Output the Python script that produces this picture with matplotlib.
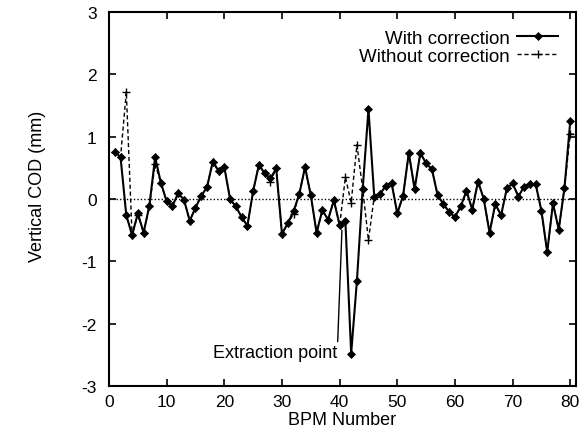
import matplotlib
matplotlib.use("Agg")
import matplotlib.pyplot as plt

plt.rcParams['font.family'] = ['Liberation Sans', 'DejaVu Sans']
plt.rcParams['axes.unicode_minus'] = False

bpm = list(range(1, 81))
with_corr = [0.76, 0.67, -0.26, -0.58, -0.23, -0.54, -0.11, 0.67, 0.26, -0.04,
             -0.11, 0.09, -0.01, -0.35, -0.14, 0.05, 0.19, 0.60, 0.45, 0.51,
             0.00, -0.12, -0.29, -0.43, 0.13, 0.55, 0.41, 0.33, 0.49, -0.56,
             -0.39, -0.20, 0.08, 0.51, 0.06, -0.54, -0.18, -0.33, -0.02, -0.42,
             -0.36, -2.48, -1.31, 0.16, 1.44, 0.04, 0.08, 0.21, 0.26, -0.23,
             0.05, 0.74, 0.16, 0.74, 0.57, 0.48, 0.06, -0.08, -0.21, -0.29,
             -0.12, 0.13, -0.17, 0.28, 0.00, -0.54, -0.08, -0.26, 0.17, 0.25,
             0.04, 0.20, 0.24, 0.24, -0.19, -0.85, -0.07, -0.49, 0.18, 1.25]
bpm_wo = list(range(1, 82))
without_corr = [0.76, 0.67, 1.72, -0.58, -0.25, -0.54, -0.11, 0.56, 0.26, -0.04,
                -0.11, 0.09, -0.01, -0.35, -0.14, 0.05, 0.19, 0.60, 0.45, 0.51,
                0.00, -0.12, -0.29, -0.43, 0.13, 0.55, 0.41, 0.28, 0.49, -0.56,
                -0.39, -0.24, 0.08, 0.51, 0.06, -0.54, -0.18, -0.33, -0.02, -0.42,
                0.35, -0.06, 0.87, 0.16, -0.66, 0.04, 0.08, 0.21, 0.26, -0.23,
                0.05, 0.74, 0.16, 0.74, 0.57, 0.48, 0.06, -0.08, -0.21, -0.29,
                -0.12, 0.13, -0.17, 0.28, 0.00, -0.54, -0.08, -0.26, 0.17, 0.25,
                0.04, 0.20, 0.24, 0.24, -0.19, -0.85, -0.07, -0.49, 0.18, 1.04, 1.04]

xticks = [0, 10, 20, 30, 40, 50, 60, 70, 80]
yticks = [-3, -2, -1, 0, 1, 2, 3]

fig = plt.figure(figsize=(5.87, 4.31), dpi=100)
ax = fig.add_axes([0.1857, 0.1021, 0.7956, 0.8677])

ax.axhline(0, color='black', lw=1.0, ls=(0, (1, 1.5)), zorder=1)
ax.plot(bpm_wo, without_corr, color='black', lw=1.0, ls=(0, (3, 2)),
        marker='+', ms=6, mew=1.0, markevery=list(range(len(bpm_wo) - 1)),
        label='Without correction', zorder=2)
ax.plot(bpm, with_corr, color='black', lw=1.5, ls='-',
        marker='D', ms=4.3, mew=0.5, label='With correction', zorder=3)

ax.annotate('Extraction point', xy=(40.4, -0.5), xytext=(39.6, -2.47),
            ha='right', va='center', fontsize=13,
            arrowprops=dict(arrowstyle='-', lw=1.0, color='black',
                            shrinkA=0, shrinkB=0, relpos=(1.0, 0.6)))

ax.set_xlim(0, 81)
ax.set_ylim(-3, 3)
ax.set_xticks(xticks)
ax.set_yticks(yticks)
ax.tick_params(direction='in', top=True, right=True, length=5, width=1.2,
               labelsize=12.5)
ax.tick_params(axis='y', pad=9)
ax.tick_params(axis='x', pad=6)
for s in ax.spines.values():
    s.set_linewidth(1.5)

ax.set_xlabel('BPM Number', fontsize=13, labelpad=1)
ax.set_ylabel('Vertical COD (mm)', fontsize=13)
ax.yaxis.set_label_coords(-0.135, 0.537)

h, l = ax.get_legend_handles_labels()
leg = ax.legend(h[::-1], l[::-1], loc='upper right', frameon=False,
                markerfirst=False, fontsize=13.5, handlelength=2.2,
                borderaxespad=0.55, labelspacing=0.05, handletextpad=0.4)
for t in leg.get_texts():
    t.set_ha('right')

fig.savefig('out.png', dpi=100)
